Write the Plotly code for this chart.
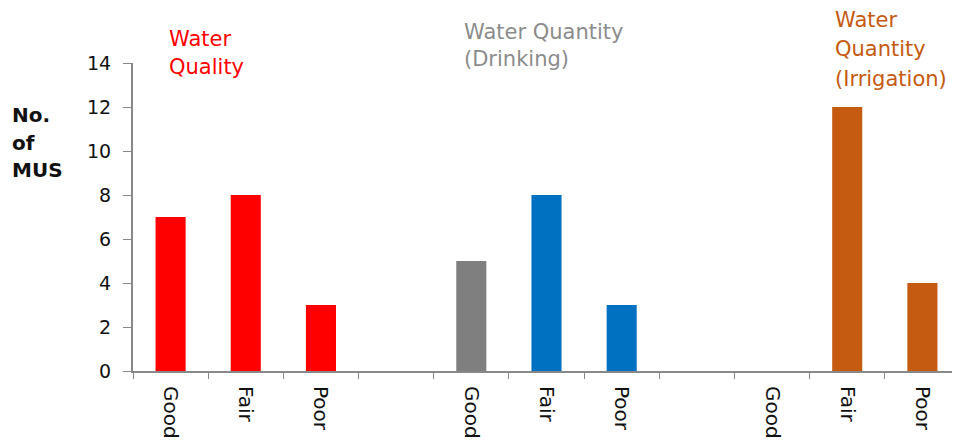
import plotly.graph_objects as go

# Category slots (ids) and their displayed tick labels
slot_ids = ["q_good", "q_fair", "q_poor", "gap1",
            "d_good", "d_fair", "d_poor", "gap2",
            "i_good", "i_fair", "i_poor"]
tick_labels = ["Good", "Fair", "Poor", "",
               "Good", "Fair", "Poor", "",
               "Good", "Fair", "Poor"]

# Series values
quality_x = ["q_good", "q_fair", "q_poor"]
quality_vals = [7, 8, 3]
quality_colors = ["#FF0000", "#FF0000", "#FF0000"]

drinking_x = ["d_good", "d_fair", "d_poor"]
drinking_vals = [5, 8, 3]
drinking_colors = ["#7F7F7F", "#0070C0", "#0070C0"]

irrigation_x = ["i_good", "i_fair", "i_poor"]
irrigation_vals = [0, 12, 4]
irrigation_colors = ["#C55A11", "#C55A11", "#C55A11"]

# Group header lines and y-axis title lines
quality_title = ["Water", "Quality"]
drinking_title = ["Water Quantity", "(Drinking)"]
irrigation_title = ["Water", "Quantity", "(Irrigation)"]
y_title = ["No.", "of", "MUS"]

FONT = "DejaVu Sans"

fig = go.Figure()
for xs, ys, cs in [(quality_x, quality_vals, quality_colors),
                   (drinking_x, drinking_vals, drinking_colors),
                   (irrigation_x, irrigation_vals, irrigation_colors)]:
    fig.add_trace(go.Bar(x=xs, y=ys, marker=dict(color=cs, line=dict(width=0)),
                         showlegend=False, hoverinfo="x+y"))


def line_annotations(lines, x, ys, color, size, bold=False):
    out = []
    for txt, y in zip(lines, ys):
        out.append(dict(text=f"<b>{txt}</b>" if bold else txt,
                        xref="paper", yref="paper", x=x, y=y,
                        xanchor="left", yanchor="middle", align="left",
                        showarrow=False,
                        font=dict(size=size, family=FONT, color=color)))
    return out


annotations = []
annotations += line_annotations(quality_title, 0.0411, [1.0795, 0.987], "#FF0000", 21)
annotations += line_annotations(drinking_title, 0.3978, [1.102, 1.0146], "#8C8C8C", 21)
annotations += line_annotations(irrigation_title, 0.8464, [1.138, 1.044, 0.948], "#C55A11", 21)
annotations += line_annotations(y_title, -0.1485, [0.830, 0.740, 0.652], "#111111", 20, bold=True)

# page body has an 8px default margin, so the figure is sized to fit the window
fig.update_layout(
    width=952, height=439,
    margin=dict(l=125, r=0, t=55, b=76, autoexpand=False),
    paper_bgcolor="white", plot_bgcolor="white",
    bargap=0.6,
    font=dict(family=FONT, color="#222222"),
    xaxis=dict(
        type="category", automargin=False,
        categoryorder="array", categoryarray=slot_ids,
        tickmode="array", tickvals=slot_ids, ticktext=tick_labels,
        tickson="boundaries", ticks="outside", ticklen=6, tickcolor="#888888",
        showline=True, linecolor="#888888", linewidth=2,
        tickangle=90, ticklabelstandoff=9,
        tickfont=dict(size=20, family=FONT, color="#111111"),
        showgrid=False, zeroline=False,
    ),
    yaxis=dict(
        range=[0, 14], dtick=2, automargin=False,
        ticks="outside", ticklen=8, tickcolor="#888888",
        showline=True, linecolor="#888888", linewidth=2,
        ticklabelstandoff=8,
        tickfont=dict(size=19, family=FONT, color="#111111"),
        showgrid=False, zeroline=False,
    ),
    annotations=annotations,
)

fig.write_html("out.html")
